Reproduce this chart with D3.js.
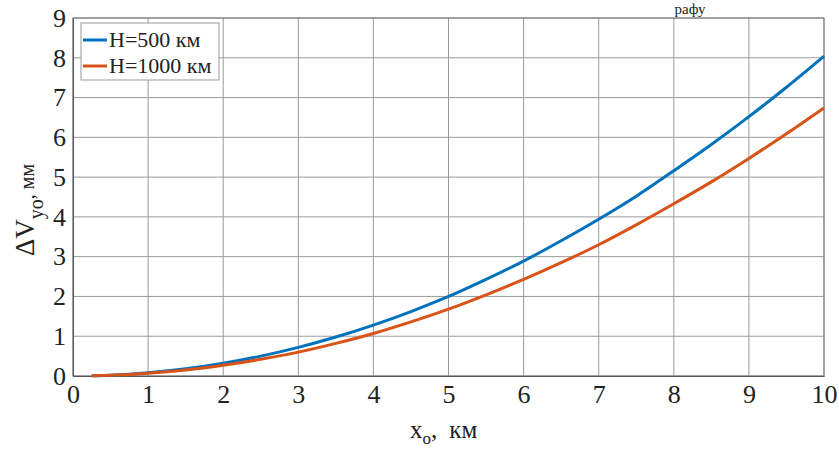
<!DOCTYPE html>
<html>
<head>
<meta charset="utf-8">
<script src="https://cdn.jsdelivr.net/npm/d3@7"></script>
<style>
  body { margin: 0; background: #fff; }
  svg text { font-family: "Liberation Serif", "Times New Roman", serif !important; fill: #222; }
</style>
</head>
<body>
<div id="chart"></div>
<script>
// data
const xValues = [0.25, 0.5, 1, 1.5, 2, 2.5, 3, 3.5, 4, 4.5, 5, 5.5, 6, 6.5, 7, 7.5, 8, 8.5, 9, 9.5, 10];
const h500 = [0.005, 0.02, 0.08, 0.18, 0.32, 0.5, 0.72, 0.98, 1.28, 1.62, 2.0, 2.43, 2.89, 3.4, 3.94, 4.52, 5.16, 5.82, 6.52, 7.26, 8.04];
const h1000 = [0.004, 0.017, 0.067, 0.15, 0.27, 0.42, 0.6, 0.82, 1.07, 1.36, 1.68, 2.04, 2.43, 2.85, 3.3, 3.8, 4.33, 4.88, 5.47, 6.09, 6.74];
const xTicks = [0, 1, 2, 3, 4, 5, 6, 7, 8, 9, 10];
const yTicks = [0, 1, 2, 3, 4, 5, 6, 7, 8, 9];
const seriesNames = ["H=500 км", "H=1000 км"];
const seriesColors = ["#0072BD", "#D95319"];

const margin = { top: 18, right: 15, bottom: 74, left: 73 },
    width = 839 - margin.left - margin.right,
    height = 450 - margin.top - margin.bottom;

const serif = "Liberation Serif";

const root = d3.select("#chart")
    .append("svg")
    .attr("width", 839)
    .attr("height", 450);

// caption fragment at the very top
root.append("text")
    .attr("x", 690)
    .attr("y", 14)
    .attr("text-anchor", "middle")
    .attr("font-size", 15)
    .text("рафу");

const svg = root.append("g")
    .attr("transform", `translate(${margin.left},${margin.top})`);

const x = d3.scaleLinear().domain([0, 10]).range([0, width]);
const y = d3.scaleLinear().domain([0, 9]).range([height, 0]);

// grid
svg.append("g")
    .selectAll("line")
    .data(xTicks)
    .join("line")
    .attr("x1", d => x(d)).attr("x2", d => x(d))
    .attr("y1", 0).attr("y2", height)
    .attr("stroke", "#9a9a9a").attr("stroke-width", 1);
svg.append("g")
    .selectAll("line")
    .data(yTicks)
    .join("line")
    .attr("x1", 0).attr("x2", width)
    .attr("y1", d => y(d)).attr("y2", d => y(d))
    .attr("stroke", "#9a9a9a").attr("stroke-width", 1);

// box
svg.append("rect")
    .attr("width", width).attr("height", height)
    .attr("fill", "none").attr("stroke", "#777").attr("stroke-width", 1);

// axes
const xAxis = svg.append("g")
    .attr("transform", `translate(0,${height})`)
    .call(d3.axisBottom(x).tickValues(xTicks).tickSize(0).tickPadding(9));
xAxis.attr("font-family", serif).attr("font-size", 26);
xAxis.select(".domain").attr("stroke", "#555");
xAxis.selectAll("text").style("font-family", serif).style("font-size", "26px");

const yAxis = svg.append("g")
    .call(d3.axisLeft(y).tickValues(yTicks).tickSize(0).tickPadding(7));
yAxis.attr("font-family", serif).attr("font-size", 26);
yAxis.select(".domain").attr("stroke", "#555");
yAxis.selectAll("text").style("font-family", serif).style("font-size", "26px");

// lines
const line = d3.line()
    .x((d, i) => x(xValues[i]))
    .y(d => y(d))
    .curve(d3.curveMonotoneX);

[h500, h1000].forEach((s, k) => {
    svg.append("path")
        .datum(s)
        .attr("fill", "none")
        .attr("stroke", seriesColors[k])
        .attr("stroke-width", 3)
        .attr("d", line);
});

// legend
const legend = svg.append("g").attr("transform", "translate(8,5)");
legend.append("rect")
    .attr("width", 138).attr("height", 57)
    .attr("fill", "#fff").attr("stroke", "#999");
seriesNames.forEach((n, k) => {
    legend.append("line")
        .attr("x1", 2).attr("x2", 26)
        .attr("y1", 17 + k * 26).attr("y2", 17 + k * 26)
        .attr("stroke", seriesColors[k]).attr("stroke-width", 3);
    legend.append("text")
        .attr("x", 28).attr("y", 24 + k * 26)
        .style("font-size", "22px")
        .text(n);
});

// axis titles
root.append("text")
    .attr("x", 410)
    .attr("y", 438)
    .style("font-size", "25px")
    .html('x<tspan dy="6" style="font-size:17px">o</tspan><tspan dy="-6">,</tspan><tspan dx="12">км</tspan>');

root.append("text")
    .attr("transform", "translate(34,256) rotate(-90)")
    .style("font-size", "27px")
    .html('ΔV<tspan dy="9" style="font-size:20px">yo</tspan><tspan dy="-9" style="font-size:20px">, мм</tspan>');
</script>
</body>
</html>
